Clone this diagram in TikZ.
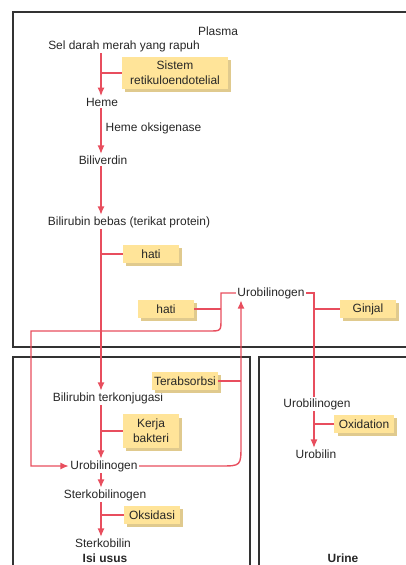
\documentclass[tikz,border=0pt]{standalone}
\usepackage{fontspec}
\setmainfont{Liberation Sans}
\usepackage{xcolor}
\usetikzlibrary{arrows.meta, positioning, calc, shadows}

\definecolor{flowred}{RGB}{232,78,94}
\definecolor{notefill}{RGB}{255,228,153}
\definecolor{noteshade}{RGB}{224,202,142}
\definecolor{textgray}{RGB}{38,38,38}

\begin{document}
\begin{tikzpicture}[
  x=0.025cm, y=-0.025cm,
  >={Latex[length=6pt, width=5pt]},
  every node/.style={font=\fontsize{8.5}{9.5}\selectfont, text=textgray},
  chemnode/.style={inner sep=1pt},
  notenode/.style={
    rectangle, fill=notefill, align=center, inner sep=1.5pt,
    minimum width=40pt, minimum height=12.5pt,
    drop shadow={shadow xshift=2.2pt, shadow yshift=-2.2pt,
                 fill=noteshade, opacity=1}
  },
  regionbox/.style={draw=black!80, line width=0.9pt},
  flow/.style={draw=flowred, line width=1pt, ->},
  branch/.style={draw=flowred, line width=1pt},
  regionlabel/.style={font=\fontsize{8.5}{9.5}\selectfont\bfseries},
]
\clip (0,0) rectangle (406,565);

% ============================================================
% COMPARTMENTS
% ============================================================
\draw[regionbox] (13,12) rectangle (425,347);
\draw[regionbox] (13,357) rectangle (250,585);
\draw[regionbox] (259,357) rectangle (425,585);

% ============================================================
% PLASMA
% ============================================================
\node[chemnode] (plasma) at (218,31) {Plasma};
\node[chemnode] (sel) at (124,46) {Sel darah merah yang rapuh};
\node[chemnode] (heme) at (102,102) {Heme};
\node[chemnode, anchor=west] (hemeoks) at (104,128) {Heme oksigenase};
\node[chemnode] (biliverdin) at (103,160) {Biliverdin};
\node[chemnode] (bilibebas) at (129,222) {Bilirubin bebas (terikat protein)};
\node[chemnode] (urobplasma) at (271,293) {Urobilinogen};

\node[notenode, minimum width=75pt, minimum height=22.5pt]
  (sistem) at (175,73) {Sistem\\[1pt]retikuloendotelial};
\node[notenode] (hatiA) at (151,254) {hati};
\node[notenode] (hatiB) at (166,309) {hati};
\node[notenode] (ginjal) at (368,309) {Ginjal};

% ============================================================
% ISI USUS
% ============================================================
\node[chemnode] (bilikonj) at (108,398) {Bilirubin terkonjugasi};
\node[chemnode] (urobusus) at (104,466) {Urobilinogen};
\node[chemnode] (sterkogen) at (105,495) {Sterkobilinogen};
\node[chemnode] (sterko) at (103,543) {Sterkobilin};
\node[regionlabel] (isiusus) at (105,558) {Isi usus};

\node[notenode, minimum width=45pt] (terabs) at (185,381) {Terabsorbsi};
\node[notenode, minimum height=23.5pt] (kerja) at (151,431) {Kerja\\[1pt]bakteri};
\node[notenode] (oksidasi) at (152,515) {Oksidasi};

% ============================================================
% URINE
% ============================================================
\node[chemnode] (uroburine) at (317,404) {Urobilinogen};
\node[chemnode] (urobilin) at (316,454) {Urobilin};
\node[regionlabel] (urine) at (343,558) {Urine};

\node[notenode, minimum width=42pt] (oxidation) at (364,424) {Oxidation};

% turning points of the loops
\coordinate (spine) at (101,0);
\coordinate (turnL) at (221,293);
\coordinate (turnR) at (241,466);
\coordinate (turnK) at (314,293);

% ============================================================
% MAIN BREAKDOWN FLOW
% ============================================================
\draw[flow] (sel.south -| spine) -- (heme.north -| spine);
\draw[branch] (sistem.west) -- (sistem.west -| spine);
\draw[flow] (heme.south -| spine) -- (biliverdin.north -| spine);
\draw[flow] (biliverdin.south -| spine) -- (bilibebas.north -| spine);
\draw[flow] (bilibebas.south -| spine) -- (bilikonj.north -| spine);
\draw[branch] (hatiA.west) -- (hatiA.west -| spine);
\draw[flow] (bilikonj.south -| spine) -- (urobusus.north -| spine);
\draw[branch] (kerja.west) -- (kerja.west -| spine);
\draw[flow] (urobusus.south -| spine) -- (sterkogen.north -| spine);
\draw[flow] (sterkogen.south -| spine) -- (sterko.north -| spine);
\draw[branch] (oksidasi.west) -- (oksidasi.west -| spine);

% ============================================================
% ENTEROHEPATIC LOOP
% ============================================================
\draw[flow] (urobusus.east) -- ($(turnR)+(-21,0)$)
  .. controls (turnR) .. ($(turnR)+(0,-21)$) -- (urobplasma.south -| turnR);
\draw[branch] (terabs.east) -- (terabs.east -| turnR);

\draw[flow] (urobplasma.west) -- (turnL) -- ($(turnL)+(0,26)$)
  .. controls ($(turnL)+(0,38)$) .. ($(turnL)+(-12,38)$)
  -- (31,331) |- (urobusus.west);
\draw[branch] (hatiB.east) -- (hatiB.east -| turnL);

% ============================================================
% KIDNEY ROUTE
% ============================================================
\draw[branch] (urobplasma.east) -- (turnK) -- (uroburine.north -| turnK);
\draw[branch] (ginjal.west) -- (ginjal.west -| turnK);
\draw[flow] (uroburine.south -| turnK) -- (urobilin.north -| turnK);
\draw[branch] (oxidation.west) -- (oxidation.west -| turnK);

\end{tikzpicture}
\end{document}
